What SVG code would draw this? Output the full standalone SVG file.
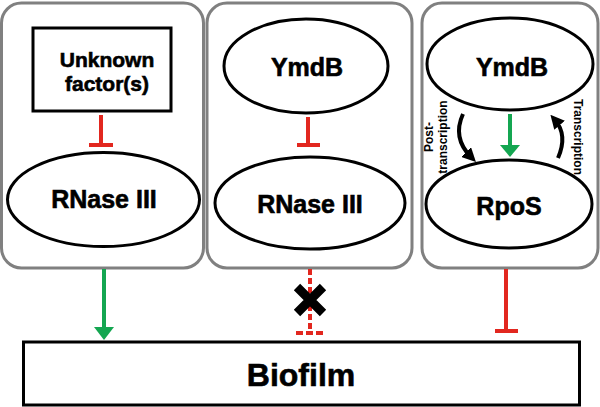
<svg xmlns="http://www.w3.org/2000/svg" width="600" height="407" viewBox="0 0 600 407">
<defs>
<style>
.panel{fill:#fff;stroke:#808080;stroke-width:3}
.node{fill:#fff;stroke:#000;stroke-width:3}
.t{font-family:"Liberation Sans",Arial,sans-serif;font-weight:bold;fill:#000;text-anchor:middle;stroke:#000;stroke-width:0.6}
.red{stroke:#e2271f;stroke-width:4;fill:none}
.grn{stroke:#14a651;stroke-width:4;fill:none}
.gh{fill:#14a651}
.blk{stroke:#000;stroke-width:4;fill:none}
.sm{font-family:"Liberation Sans",Arial,sans-serif;font-weight:bold;font-size:12px;fill:#000;text-anchor:middle}
</style>
<marker id="ba" markerUnits="userSpaceOnUse" markerWidth="14" markerHeight="14" refX="7" refY="7" orient="auto" viewBox="0 0 14 14">
<path d="M0 0 L14 7 L0 14 Z" fill="#000"/>
</marker>
</defs>
<g id="panel1">
<rect class="panel" x="1.5" y="3" width="202" height="265" rx="20"/>
</g>
<g id="panel2">
<rect class="panel" x="207" y="3" width="205" height="265" rx="20"/>
</g>
<g id="panel3">
<rect class="panel" x="422" y="3" width="176" height="265" rx="20"/>
</g>
<g id="unknown">
<rect class="node" x="33" y="28" width="138" height="83"/>
<text class="t" x="107" y="67" font-size="21">Unknown</text>
<text class="t" x="107" y="91" font-size="21">factor(s)</text>
</g>
<g id="rnase1">
<ellipse class="node" cx="103.5" cy="199.5" rx="96" ry="47"/>
<text class="t" x="104" y="208" font-size="25">RNase III</text>
</g>
<g id="ymdb2">
<ellipse class="node" cx="306" cy="66" rx="82" ry="47"/>
<text class="t" x="307" y="76" font-size="25">YmdB</text>
</g>
<g id="rnase2">
<ellipse class="node" cx="310" cy="203" rx="95" ry="46"/>
<text class="t" x="310" y="213" font-size="25">RNase III</text>
</g>
<g id="ymdb3">
<ellipse class="node" cx="510" cy="64" rx="83" ry="46"/>
<text class="t" x="512" y="76" font-size="25">YmdB</text>
</g>
<g id="rpos">
<ellipse class="node" cx="509" cy="204" rx="83" ry="44"/>
<text class="t" x="509" y="215" font-size="25">RpoS</text>
</g>
<g id="biofilm">
<rect class="node" x="23.5" y="342" width="556" height="63"/>
<text class="t" x="301" y="386" font-size="32">Biofilm</text>
</g>
<g id="connectors">
<path class="red" d="M101 115 V145 M89 145 H113"/>
<path class="red" d="M308 117 V145 M297 145 H320"/>
<path class="grn" d="M510 114 V147"/>
<polygon class="gh" points="500,145 520,145 510,157"/>
<path class="blk" d="M463 114 Q452 138 471 157" marker-end="url(#ba)"/>
<path class="blk" d="M558 158 Q568 135 555 120" marker-end="url(#ba)"/>
<path class="grn" d="M104 269 V330"/>
<polygon class="gh" points="94,327 114,327 104,340"/>
<path class="red" d="M310 269 V331" stroke-dasharray="6 3"/>
<path class="red" d="M296 333 H326" stroke-dasharray="7 3"/>
<path d="M297 287 L323 313 M323 287 L297 313" stroke="#000" stroke-width="9"/>
<path class="red" d="M506 269 V331 M495 331 H518"/>
</g>
<text class="sm" transform="translate(433,137) rotate(-90)">Post-</text>
<text class="sm" transform="translate(447,137) rotate(-90)">transcription</text>
<text class="sm" transform="translate(574,137) rotate(90)">Transcription</text>
</svg>
